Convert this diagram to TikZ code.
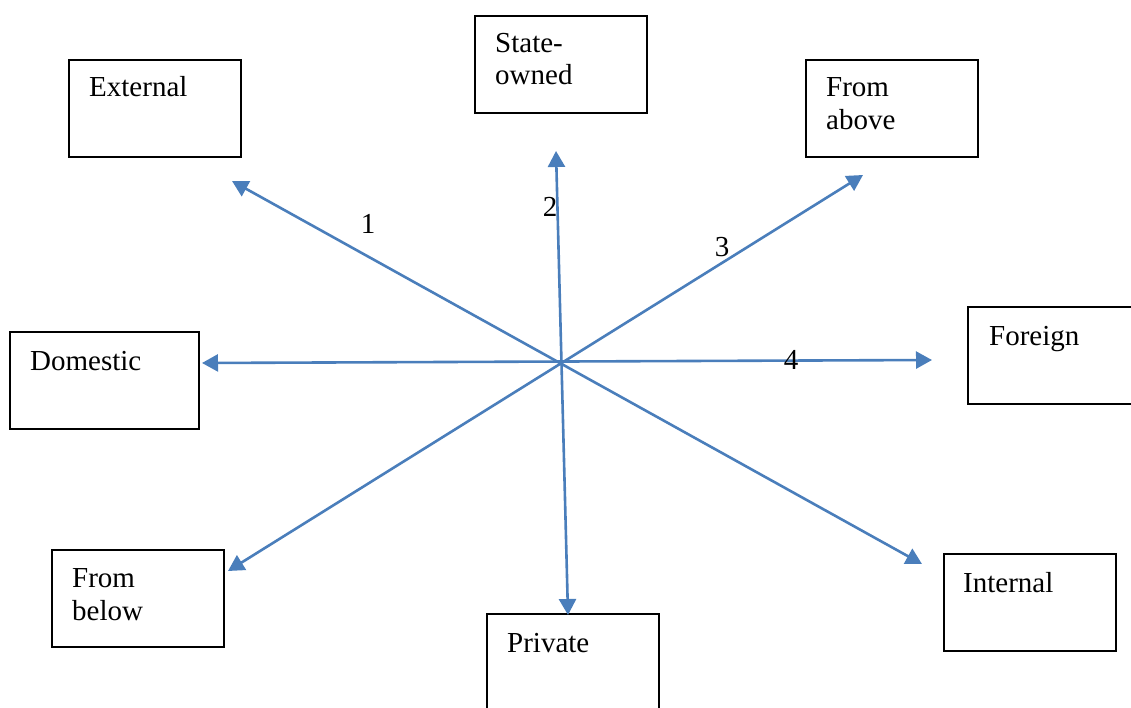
\documentclass[tikz,border=0pt]{standalone}
\usepackage{fontspec}
\setmainfont{Liberation Serif}
\usetikzlibrary{arrows.meta}
\tikzset{
  box/.style={draw=black, line width=1.1pt},
  lbl/.style={anchor=base west, inner sep=0pt, font=\fontsize{29}{34}\selectfont},
  num/.style={inner sep=0pt, font=\fontsize{29}{34}\selectfont},
  conn/.style={draw={rgb,255:red,74;green,126;blue,187}, line width=2.6pt,
    {Triangle[length=16pt,width=17pt]}-{Triangle[length=16pt,width=17pt]}}
}
\begin{document}
\begin{tikzpicture}[x=1pt,y=-1pt]
\useasboundingbox (0,0) rectangle (1131,708);
\clip (0,0) rectangle (1131,708);
% boxes
\draw[box] (69,60) rectangle (241,157);
\draw[box] (475,16) rectangle (647,113);
\draw[box] (806,60) rectangle (978,157);
\draw[box] (968,307) rectangle (1140,404);
\draw[box] (10,332) rectangle (199,429);
\draw[box] (52,550) rectangle (224,647);
\draw[box] (487,614) rectangle (659,720);
\draw[box] (944,554) rectangle (1116,651);
% texts
\node[lbl] (ext) at (89,97) {External};
\node[lbl] (so1) at (495,53) {State-};
\node[lbl] (so2) at (495,85) {owned};
\node[lbl] (fa1) at (826,97) {From};
\node[lbl] (fa2) at (826,130) {above};
\node[lbl] (for) at (989,345) {Foreign};
\node[lbl] (dom) at (30,370) {Domestic};
\node[lbl] (fb1) at (72,587) {From};
\node[lbl] (fb2) at (72,620) {below};
\node[lbl] (pri) at (507,652) {Private};
\node[lbl] (int) at (963,592) {Internal};
% arrow ends
\coordinate (e1a) at (232,181);
\coordinate (e1b) at (922,564);
\coordinate (e2a) at (556,151);
\coordinate (e2b) at (568,615);
\coordinate (e3a) at (863,175);
\coordinate (e3b) at (228,571);
\coordinate (e4a) at (202,363);
\coordinate (e4b) at (932,360);
\draw[conn] (e1a) -- (e1b);
\draw[conn] (e2a) -- (e2b);
\draw[conn] (e3a) -- (e3b);
\draw[conn] (e4a) -- (e4b);
% numbers
\node[num] (n1) at (368,224) {1};
\node[num] (n2) at (550,207) {2};
\node[num] (n3) at (722,247) {3};
\node[num] (n4) at (791,360) {4};
\end{tikzpicture}
\end{document}
